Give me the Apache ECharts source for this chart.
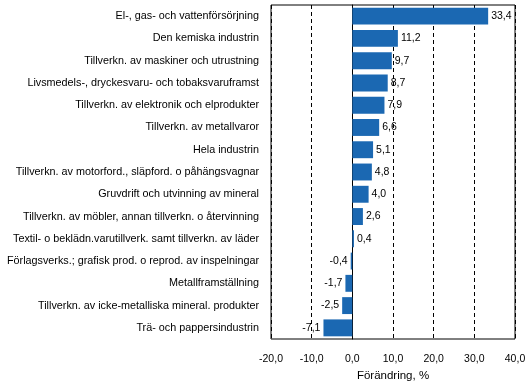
<!DOCTYPE html>
<html><head><meta charset="utf-8">
<script src="https://cdn.jsdelivr.net/npm/echarts@6/dist/echarts.min.js"></script>
<style>html,body{margin:0;padding:0;background:#fff}#c{width:532px;height:391px}</style>
</head><body><div id="c"></div>
<script>
var categories = [
  "El-, gas- och vattenförsörjning",
  "Den kemiska industrin",
  "Tillverkn. av maskiner och utrustning",
  "Livsmedels-, dryckesvaru- och tobaksvaruframst",
  "Tillverkn. av elektronik och elprodukter",
  "Tillverkn. av metallvaror",
  "Hela industrin",
  "Tillverkn. av motorford., släpford. o påhängsvagnar",
  "Gruvdrift och utvinning av mineral",
  "Tillverkn. av möbler, annan tillverkn. o återvinning",
  "Textil- o beklädn.varutillverk. samt tillverkn. av läder",
  "Förlagsverks.; grafisk prod. o reprod. av inspelningar",
  "Metallframställning",
  "Tillverkn. av icke-metalliska mineral. produkter",
  "Trä- och pappersindustrin"
];
var values = [33.4, 11.2, 9.7, 8.7, 7.9, 6.6, 5.1, 4.8, 4.0, 2.6, 0.4, -0.4, -1.7, -2.5, -7.1];
var axisName = "Förändring, %";

function fmt(v){ return v.toFixed(1).replace('.', ','); }

var chart = echarts.init(document.getElementById('c'));
chart.setOption({
  animation: false,
  grid: {left: 271, right: 17, top: 5, bottom: 52, show: true, borderColor: '#000', borderWidth: 1,
    containLabel: false, outerBoundsMode: 'none'},
  xAxis: {
    type: 'value', min: -20, max: 40, interval: 10,
    axisLine: {show: false}, axisTick: {show: false},
    axisLabel: {formatter: fmt, color: '#000', fontFamily: 'Liberation Sans', fontSize: 10.5, margin: 15},
    splitLine: {show: true, lineStyle: {color: '#000', type: [4, 3], width: 1}},
    name: axisName, nameLocation: 'middle', nameGap: 30,
    nameTextStyle: {color: '#000', fontFamily: 'Liberation Sans', fontSize: 11.5}
  },
  yAxis: {
    type: 'category', inverse: true, data: categories,
    axisLine: {show: true, onZero: true, lineStyle: {color: '#000', width: 1}},
    axisTick: {show: false},
    axisLabel: {color: '#000', fontFamily: 'Liberation Sans', fontSize: 10.8, margin: 12, interval: 0}
  },
  series: [{
    type: 'bar', barCategoryGap: '24%',
    itemStyle: {color: '#1b68b2'},
    data: values.map(function(v){
      return {value: v, label: {position: v >= 0 ? 'right' : 'left'}};
    }),
    label: {show: true, distance: 3, color: '#000', fontFamily: 'Liberation Sans', fontSize: 10.5,
      formatter: function(p){ return fmt(p.value); }}
  }]
});
</script></body></html>
